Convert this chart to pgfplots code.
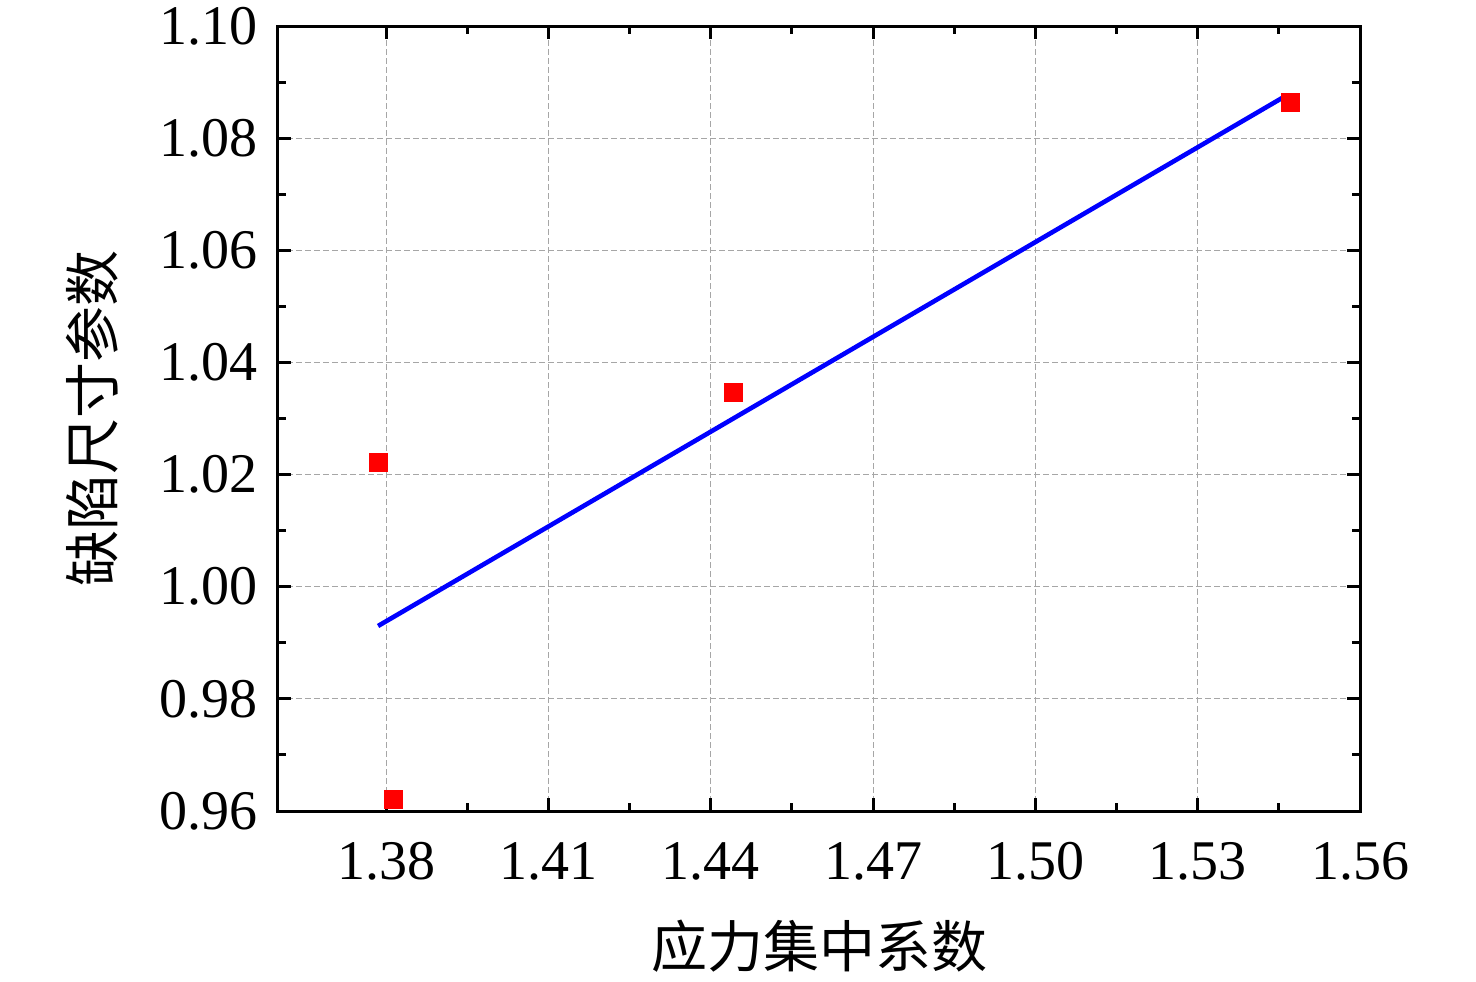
\documentclass[border=0pt]{standalone}
\usepackage{fontspec}
\setmainfont{Liberation Serif}
\newfontfamily\cjk{Noto Sans CJK SC}
\usepackage{pgfplots}
\pgfplotsset{compat=1.18}
\begin{document}
\begin{tikzpicture}
\begin{axis}[
  scale only axis, width=541pt, height=392.5pt,
  at={(0,0)}, anchor=south west,
  xmin=1.36, xmax=1.56, ymin=0.96, ymax=1.10,
  xtick={1.38,1.41,1.44,1.47,1.50,1.53,1.56},
  ytick={0.96,0.98,1.00,1.02,1.04,1.06,1.08,1.10},
  minor x tick num=1, minor y tick num=1,
  tick align=inside, major tick length=6.5pt, minor tick length=4pt,
  every tick/.style={black, line width=1.5pt},
  axis line style={line width=1.5pt},
  grid=major,
  major grid style={gray!70, line width=0.5pt, dash pattern=on 3pt off 1.5pt},
  /pgf/number format/assume math mode=true,
  xticklabel style={/pgf/number format/.cd, fixed, fixed zerofill, precision=2},
  yticklabel style={/pgf/number format/.cd, fixed, fixed zerofill, precision=2},
  ticklabel style={font=\fontsize{28}{30}\selectfont},
  xticklabel shift=12pt, yticklabel shift=6.5pt,
  xlabel={\cjk 应力集中系数}, ylabel={\cjk 缺陷尺寸参数},
  label style={font=\fontsize{28}{30}\selectfont},
  xlabel style={yshift=-13pt},
  ylabel style={yshift=14pt},
]
\addplot[blue, line width=2.3pt] coordinates {(1.3785,0.9930) (1.5462,1.0875)};
\addplot[only marks, mark=square*, mark size=4.5pt, color=red] coordinates {
(1.3785,1.0222) (1.3813,0.9621) (1.4441,1.0347) (1.5471,1.0864)};
\end{axis}
\pgfresetboundingbox
\path (-139pt,-85pt) rectangle (599pt,405.5pt);
\end{tikzpicture}
\end{document}
